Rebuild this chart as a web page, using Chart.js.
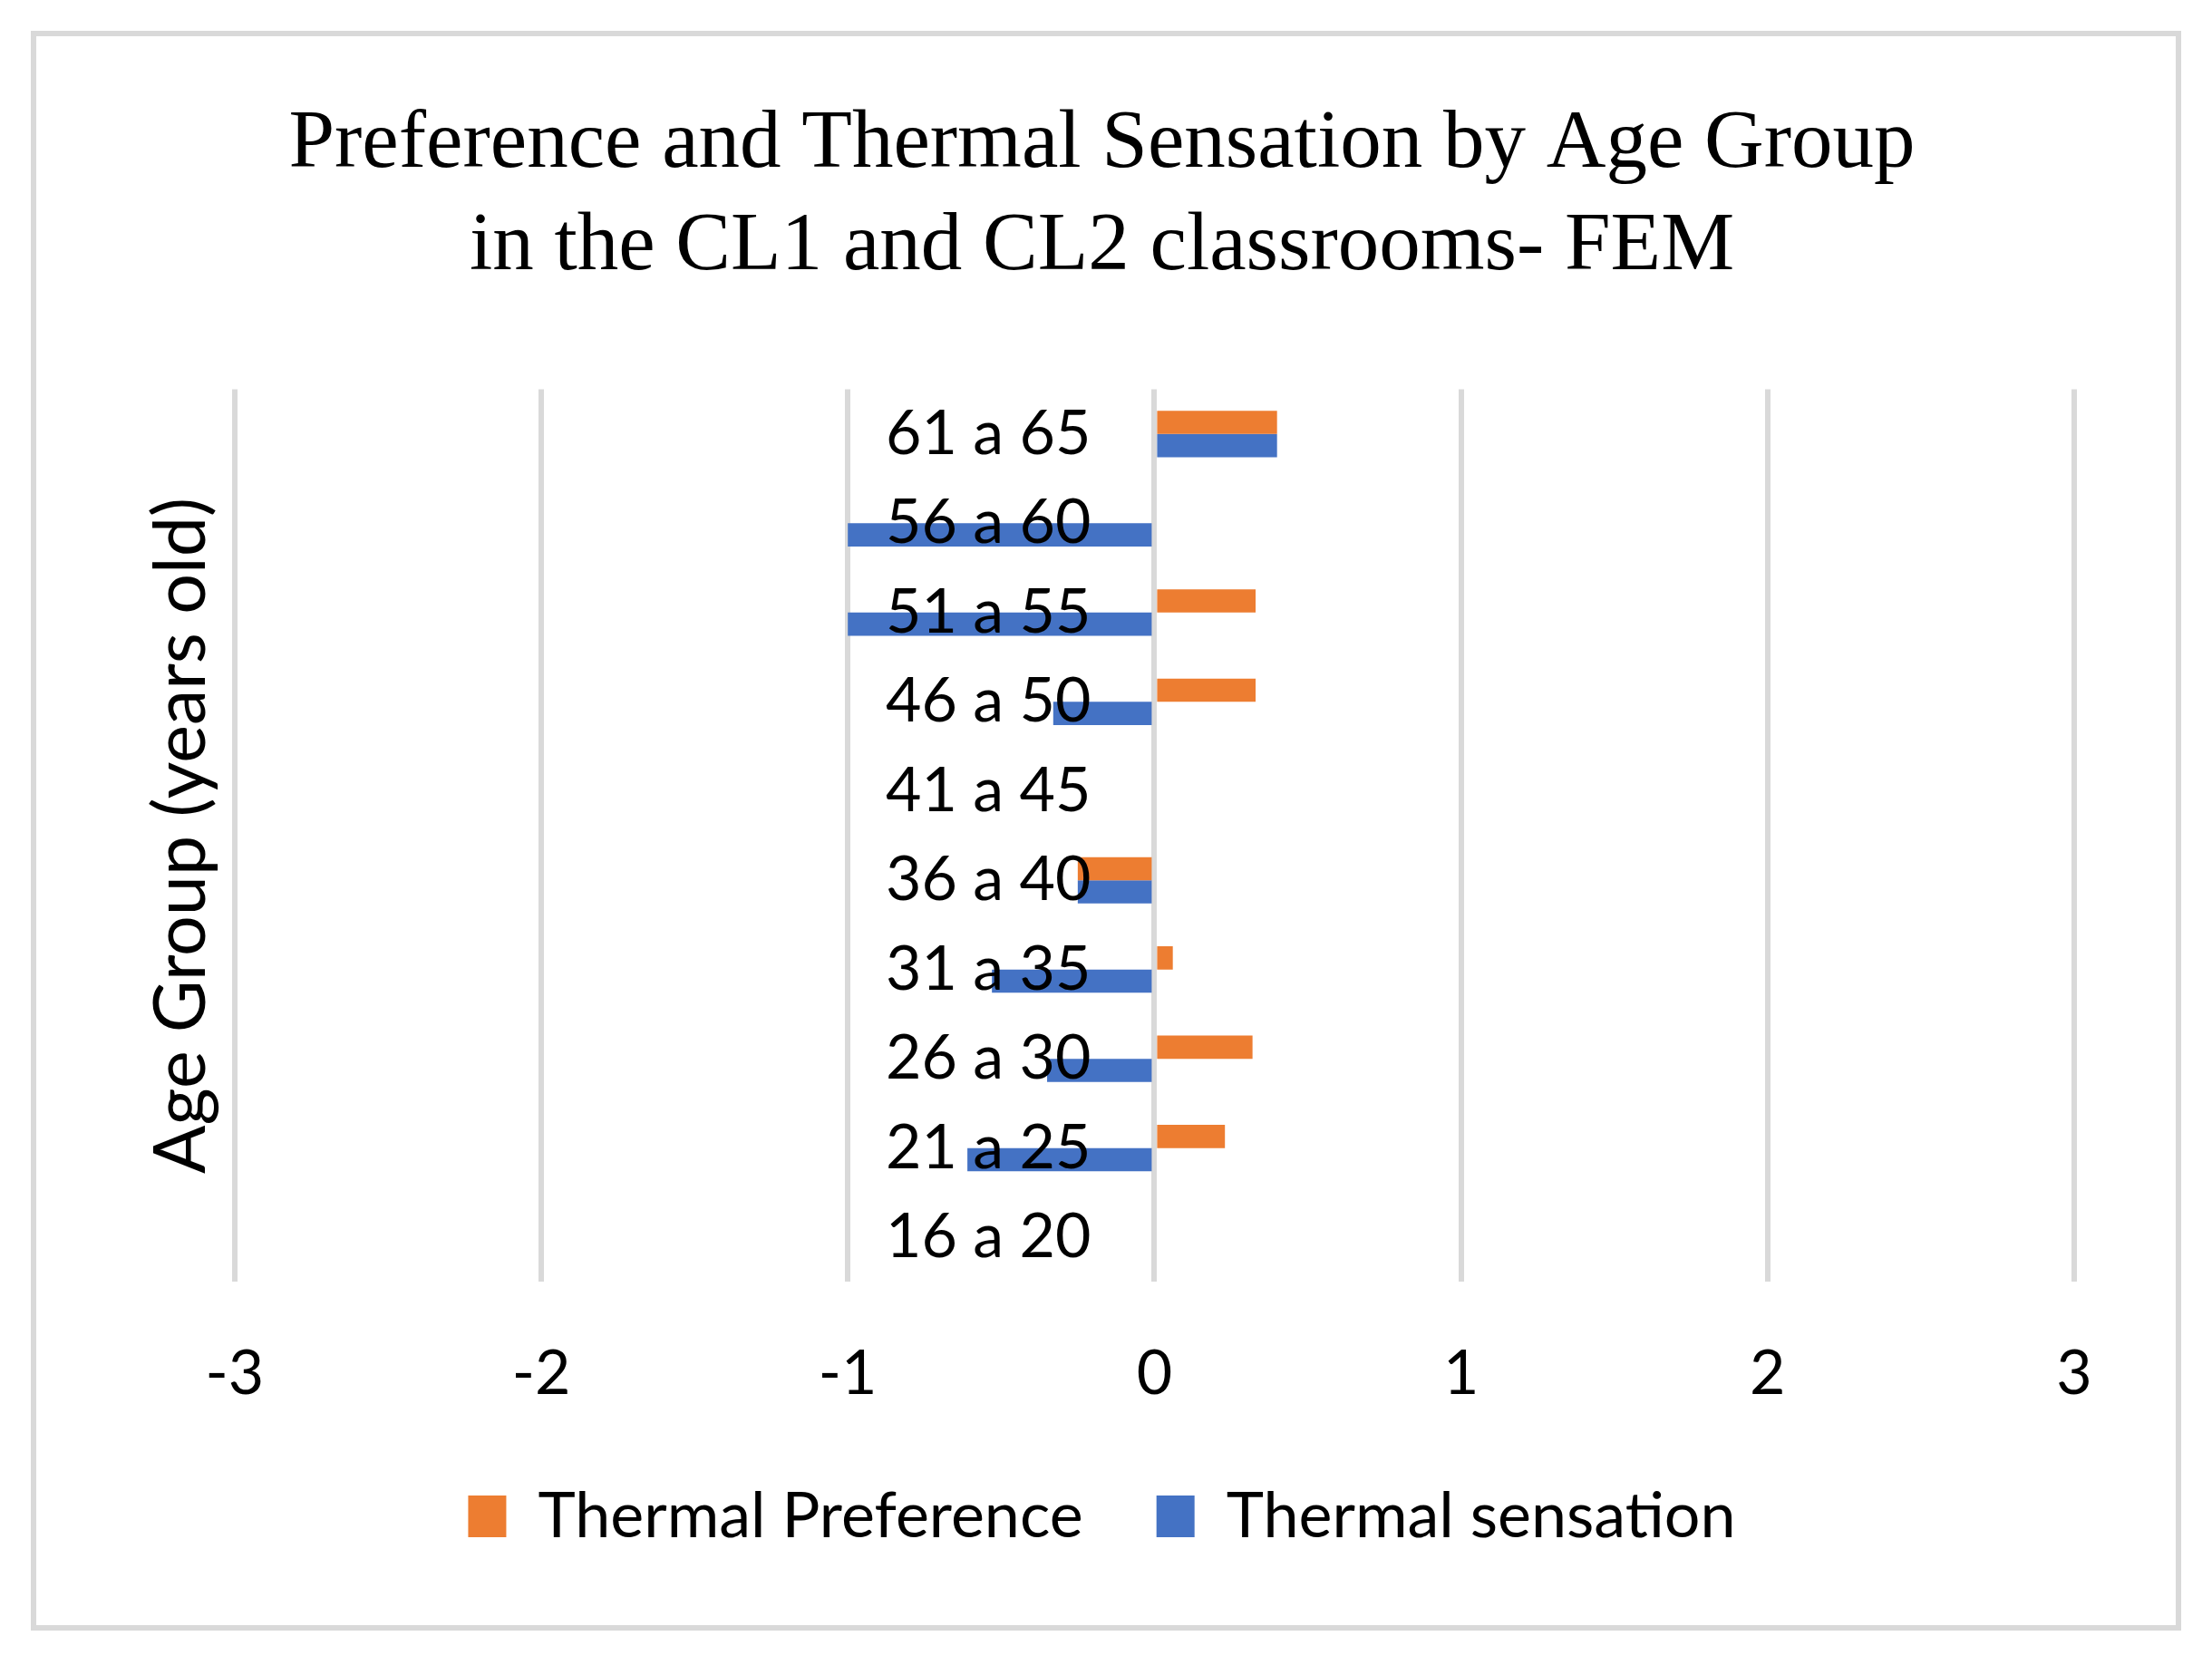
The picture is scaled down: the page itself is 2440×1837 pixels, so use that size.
<!DOCTYPE html>
<html>
<head>
<meta charset="utf-8">
<title>Preference and Thermal Sensation by Age Group</title>
<script src="https://cdn.jsdelivr.net/npm/chart.js@4.4.0/dist/chart.umd.min.js"></script>
<style>
  html, body { margin: 0; padding: 0; background: #fff; }
  #wrap { width: 2440px; height: 1837px; }
</style>
</head>
<body>
<div id="wrap"><canvas id="ageChart" width="2440" height="1837"></canvas></div>
<script>
// Chart data (bottom to top)
const ageGroups = ['16 a 20', '21 a 25', '26 a 30', '31 a 35', '36 a 40',
                   '41 a 45', '46 a 50', '51 a 55', '56 a 60', '61 a 65'];
const thermalPreference = [0, 0.23, 0.32, 0.06, -0.25, 0, 0.33, 0.33, 0, 0.4];
const thermalSensation = [0, -0.61, -0.35, -0.53, -0.25, 0, -0.33, -1, -1, 0.4];
const xTicks = [-3, -2, -1, 0, 1, 2, 3];

const titleLines = ['Preference and Thermal Sensation by Age Group',
                    'in the CL1 and CL2 classrooms- FEM'];
const yAxisTitle = 'Age Group (years old)';

const labelFont = 'Lato';
const gridColor = '#d9d9d9';

// White background plus the grey frame round the whole chart
const framePlugin = {
    id: 'frame',
    beforeDraw(chart) {
        const ctx = chart.ctx;
        ctx.save();
        ctx.fillStyle = '#fff';
        ctx.fillRect(0, 0, chart.width, chart.height);
        ctx.strokeStyle = gridColor;
        ctx.lineWidth = 6;
        ctx.strokeRect(37, 37, chart.width - 74, chart.height - 78);
        ctx.restore();
    }
};

// Category labels sit next to the zero line, over the bars (Excel style)
const zeroLabelsPlugin = {
    id: 'zeroLabels',
    afterDatasetsDraw(chart) {
        const { ctx, scales: { x, y } } = chart;
        const x0 = x.getPixelForValue(0);
        ctx.save();
        ctx.font = '68px ' + labelFont;
        ctx.fillStyle = '#000';
        ctx.textAlign = 'right';
        ctx.textBaseline = 'middle';
        ageGroups.forEach((group, i) => {
            ctx.fillText(group, x0 - 70, y.getPixelForValue(i));
        });
        ctx.restore();
    }
};

const ctx = document.getElementById('ageChart').getContext('2d');
const ageChart = new Chart(ctx, {
    type: 'bar',
    data: {
        labels: ageGroups,
        datasets: [
            {
                label: 'Thermal Preference',
                data: thermalPreference,
                backgroundColor: '#ed7d31',
                borderWidth: 0
            },
            {
                label: 'Thermal sensation',
                data: thermalSensation,
                backgroundColor: '#4472c4',
                borderWidth: 0
            }
        ]
    },
    options: {
        indexAxis: 'y',
        responsive: false,
        devicePixelRatio: 1,
        animation: false,
        datasets: {
            bar: {
                categoryPercentage: 0.52,
                barPercentage: 1.0
            }
        },
        layout: {
            padding: { left: 143, right: 152, top: 0, bottom: 119 }
        },
        scales: {
            x: {
                min: -3,
                max: 3,
                afterBuildTicks: axis => {
                    axis.ticks = xTicks.map(v => ({ value: v }));
                },
                // only pad above the labels, not below them
                afterFit: axis => {
                    axis.height -= axis.options.ticks.padding;
                },
                grid: {
                    color: gridColor,
                    lineWidth: 6,
                    drawTicks: false
                },
                border: { display: false },
                ticks: {
                    color: '#000',
                    padding: 61,
                    font: { family: labelFont, size: 68 }
                }
            },
            y: {
                reverse: true,
                grid: { display: false, drawTicks: false },
                border: { display: false },
                ticks: { display: false },
                title: {
                    display: true,
                    text: yAxisTitle,
                    color: '#000',
                    font: { family: labelFont, size: 79 },
                    padding: { top: 10, bottom: 11 }
                }
            }
        },
        plugins: {
            title: {
                display: true,
                text: titleLines,
                color: '#000',
                font: { family: 'Liberation Serif', size: 91, weight: 'normal', lineHeight: 1.245 },
                padding: { top: 103, bottom: 100 }
            },
            legend: {
                position: 'bottom',
                labels: {
                    color: '#000',
                    font: { family: labelFont, size: 70 },
                    boxWidth: 42,
                    boxHeight: 46,
                    padding: 81
                }
            },
            tooltip: { enabled: false }
        }
    },
    plugins: [framePlugin, zeroLabelsPlugin]
});
</script>
</body>
</html>
